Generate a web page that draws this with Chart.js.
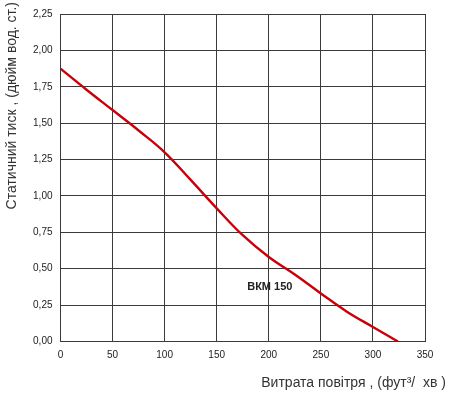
<!DOCTYPE html>
<html>
<head>
<meta charset="utf-8">
<script src="https://cdn.jsdelivr.net/npm/chart.js@4"></script>
<style>
  html, body { margin: 0; padding: 0; background: #fff; }
  #wrap { width: 450px; height: 394px; }
</style>
</head>
<body>
<div id="wrap"><canvas id="fanChart"></canvas></div>
<script>
// Airflow (cfm) and static pressure (in. wg)
const airflow = [0, 25, 50, 75, 100, 125, 150, 175, 200, 225, 250, 275, 300, 324];
const pressure = [1.875, 1.73, 1.59, 1.45, 1.30, 1.11, 0.915, 0.73, 0.58, 0.46, 0.33, 0.205, 0.10, 0];
const curveName = "ВКМ 150";
const curveLabelAt = [201, 0.375];
const xTitle = "Витрата повітря , (фут³/  хв )";
const yTitle = "Статичний тиск , (дюйм вод. ст.)";

const gridColor = "#3a3a3a";
const textColor = "#222";

// draws axis titles and the curve label where the reference has them
const labelsPlugin = {
  id: "labels",
  afterDraw(chart) {
    const { ctx, scales } = chart;
    ctx.save();
    ctx.fillStyle = "#333";
    ctx.font = "14px 'Liberation Sans', Arial, sans-serif";
    ctx.textBaseline = "middle";

    ctx.textAlign = "right";
    ctx.fillText(xTitle, 446, 383);

    ctx.translate(12, 2);
    ctx.rotate(-Math.PI / 2);
    ctx.textAlign = "right";
    ctx.fillText(yTitle, 0, 0);
    ctx.restore();

    ctx.save();
    ctx.fillStyle = "#222";
    ctx.font = "bold 11px 'Liberation Sans', Arial, sans-serif";
    ctx.textAlign = "center";
    ctx.textBaseline = "middle";
    ctx.fillText(curveName,
      scales.x.getPixelForValue(curveLabelAt[0]),
      scales.y.getPixelForValue(curveLabelAt[1]));
    ctx.restore();
  },
};

const ctx = document.getElementById("fanChart").getContext("2d");
new Chart(ctx, {
  type: "line",
  data: {
    datasets: [
      {
        label: curveName,
        data: airflow.map((x, i) => ({ x: x, y: pressure[i] })),
        borderColor: "#c8000a",
        borderWidth: 2.4,
        pointRadius: 0,
        tension: 0.4,
        fill: false,
      },
    ],
  },
  options: {
    responsive: true,
    maintainAspectRatio: false,
    animation: false,
    layout: { padding: { left: 0, top: 12, right: 25, bottom: 0 } },
    plugins: {
      legend: { display: false },
      tooltip: { enabled: false },
    },
    scales: {
      x: {
        type: "linear",
        min: 0,
        max: 350,
        ticks: {
          stepSize: 50,
          padding: 8,
          color: textColor,
          font: { family: "'Liberation Sans', Arial, sans-serif", size: 10 },
          maxRotation: 0,
        },
        grid: { color: gridColor, lineWidth: 1, drawTicks: false },
        border: { color: gridColor },
        afterFit: (scale) => { scale.height = 52.5; },
      },
      y: {
        min: 0,
        max: 2.25,
        ticks: {
          stepSize: 0.25,
          padding: 8,
          color: textColor,
          font: { family: "'Liberation Sans', Arial, sans-serif", size: 10 },
          callback: (v) => v.toFixed(2).replace(".", ","),
        },
        grid: { color: gridColor, lineWidth: 1, drawTicks: false },
        border: { color: gridColor },
        afterFit: (scale) => { scale.width = 60.5; },
      },
    },
  },
  plugins: [labelsPlugin],
});
</script>
</body>
</html>
